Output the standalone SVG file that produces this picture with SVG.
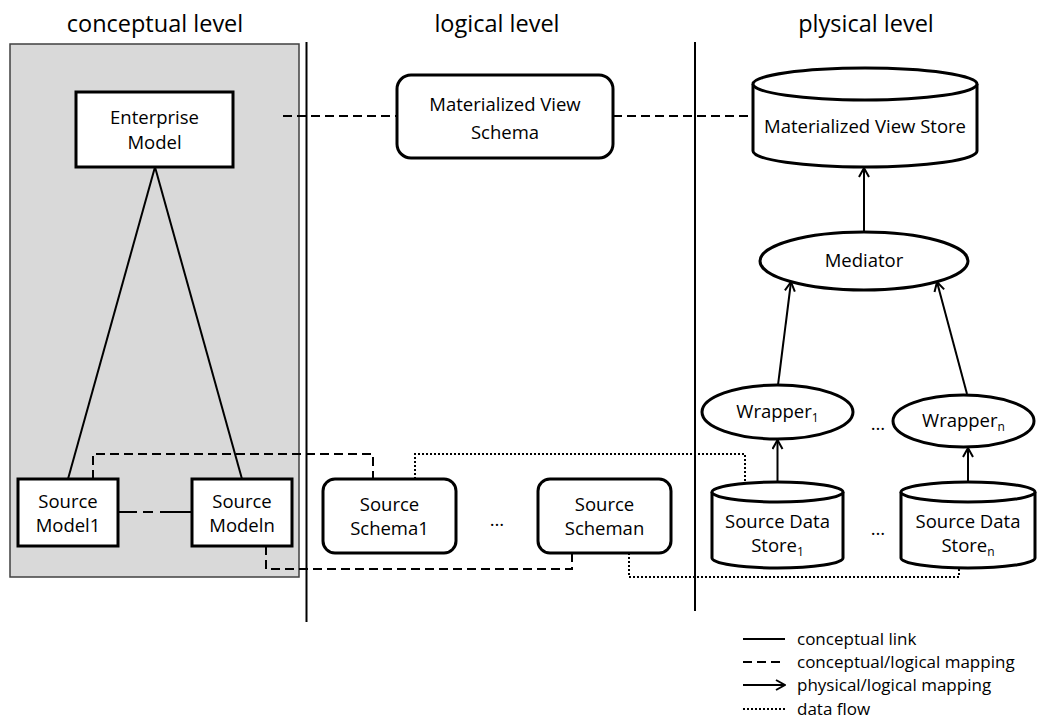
<svg xmlns="http://www.w3.org/2000/svg" width="1038" height="722" viewBox="0 0 1038 722">
  <style>
    text { font-family: "Open Sans", "Liberation Sans", sans-serif; fill: #000; text-anchor: middle; }
    tspan { fill: #000; }
    .title { font-size: 23.5px; }
    .lbl { font-size: 18.5px; }
    .leg { font-size: 17px; text-anchor: start; }
    .sub { font-size: 12px; }
    .box { fill: #fff; stroke: #000; stroke-width: 3; }
    .sep { stroke: #000; stroke-width: 2; fill: none; }
    .link { stroke: #000; stroke-width: 2; fill: none; }
    .map { stroke: #000; stroke-width: 2; fill: none; stroke-dasharray: 9 5; }
    .flow { stroke: #000; stroke-width: 2; fill: none; stroke-dasharray: 2 2; }
    .phys { stroke: #000; stroke-width: 2; fill: none; marker-end: url(#open); }
  </style>
  <defs>
    <marker id="open" viewBox="0 0 12 12" refX="11" refY="6" markerWidth="12" markerHeight="12" markerUnits="userSpaceOnUse" orient="auto">
      <path d="M2,1 L11,6 L2,11" fill="none" stroke="#000" stroke-width="2"/>
    </marker>
  </defs>

  <rect width="1038" height="722" fill="#fff"/>

  <!-- level headings -->
  <text class="title" x="155" y="32">conceptual level</text>
  <text class="title" x="497" y="32">logical level</text>
  <text class="title" x="866" y="32">plysical level</text>

  <!-- conceptual area -->
  <rect x="10" y="44" width="289" height="533" fill="#d9d9d9" stroke="#404040" stroke-width="1.5"/>

  <!-- level separators -->
  <line class="sep" x1="306.5" y1="42" x2="306.5" y2="622"/>
  <line class="sep" x1="695" y1="42" x2="695" y2="611"/>

  <g id="connectors">
    <!-- conceptual links -->
    <line class="link" x1="155" y1="167" x2="68" y2="479"/>
    <line class="link" x1="155" y1="167" x2="242" y2="479"/>
    <!-- conceptual/logical mappings -->
    <line class="map" x1="283" y1="116" x2="397" y2="116"/>
    <line class="map" x1="613" y1="116" x2="753" y2="116"/>
    <line class="link" x1="118" y1="512" x2="192" y2="512" stroke-dasharray="19 6 10 7 40"/>
    <polyline class="map" points="93,479 93,454 373,454 373,479"/>
    <polyline class="map" points="266,546 266,569 572,569 572,553"/>
    <!-- data flows -->
    <polyline class="flow" points="415,479 415,454 745,454 745,483"/>
    <polyline class="flow" points="629,553 629,577 959,577 959,568"/>
    <!-- physical/logical mappings -->
    <line class="phys" x1="777.5" y1="482" x2="777.5" y2="440"/>
    <line class="phys" x1="968" y1="482" x2="968" y2="448"/>
    <line class="phys" x1="778" y1="385" x2="791" y2="282"/>
    <line class="phys" x1="967" y1="394" x2="937" y2="282"/>
    <line class="phys" x1="864" y1="232" x2="864" y2="168"/>
  </g>

  <g id="enterprise-model">
    <rect class="box" x="76" y="92" width="157" height="75"/>
    <text class="lbl" x="154.5" y="124">Enterprise</text>
    <text class="lbl" x="154.5" y="149">Model</text>
  </g>

  <g id="source-model1">
    <rect class="box" x="18" y="479" width="100" height="67"/>
    <text class="lbl" x="68" y="508">Source</text>
    <text class="lbl" x="68" y="532">Model1</text>
  </g>

  <g id="source-modeln">
    <rect class="box" x="192" y="479" width="100" height="67"/>
    <text class="lbl" x="242" y="508">Source</text>
    <text class="lbl" x="242" y="532">Modeln</text>
  </g>

  <g id="mv-schema">
    <rect class="box" x="397" y="75" width="216" height="83" rx="14"/>
    <text class="lbl" x="505" y="111">Materialized View</text>
    <text class="lbl" x="505" y="139">Schema</text>
  </g>

  <g id="source-schema1">
    <rect class="box" x="323" y="479" width="133" height="74" rx="12"/>
    <text class="lbl" x="389.5" y="511">Source</text>
    <text class="lbl" x="389.5" y="535">Schema1</text>
  </g>

  <text class="lbl" x="497" y="526">…</text>

  <g id="source-scheman">
    <rect class="box" x="538" y="479" width="133" height="74" rx="12"/>
    <text class="lbl" x="604.5" y="511">Source</text>
    <text class="lbl" x="604.5" y="535">Scheman</text>
  </g>

  <g id="mv-store">
    <path class="box" d="M753,84 L753,151 A112,16 0 0 0 977,151 L977,84 A112,16 0 0 0 753,84 Z"/>
    <path class="box" d="M753,84 A112,16 0 0 0 977,84" fill="none"/>
    <text class="lbl" x="865" y="133">Materialized View Store</text>
  </g>

  <g id="mediator">
    <ellipse class="box" cx="864" cy="261" rx="104" ry="29"/>
    <text class="lbl" x="864" y="267">Mediator</text>
  </g>

  <g id="wrapper1">
    <ellipse class="box" cx="777.5" cy="412" rx="75.5" ry="27"/>
    <text class="lbl" x="777.5" y="418">Wrapper<tspan class="sub" dy="4">1</tspan></text>
  </g>

  <text class="lbl" x="878" y="430">…</text>

  <g id="wrappern">
    <ellipse class="box" cx="963.5" cy="421" rx="70.5" ry="26"/>
    <text class="lbl" x="963.5" y="427">Wrapper<tspan class="sub" dy="4">n</tspan></text>
  </g>

  <g id="source-store1">
    <path class="box" d="M712,492 L712,558 A65.5,10 0 0 0 843,558 L843,492 A65.5,10 0 0 0 712,492 Z"/>
    <path class="box" d="M712,492 A65.5,10 0 0 0 843,492" fill="none"/>
    <text class="lbl" x="777.5" y="528">Source Data</text>
    <text class="lbl" x="777.5" y="552">Store<tspan class="sub" dy="4">1</tspan></text>
  </g>

  <text class="lbl" x="878" y="535">…</text>

  <g id="source-storen">
    <path class="box" d="M901,492 L901,558 A67,10 0 0 0 1035,558 L1035,492 A67,10 0 0 0 901,492 Z"/>
    <path class="box" d="M901,492 A67,10 0 0 0 1035,492" fill="none"/>
    <text class="lbl" x="968" y="528">Source Data</text>
    <text class="lbl" x="968" y="552">Store<tspan class="sub" dy="4">n</tspan></text>
  </g>

  <g id="legend">
    <line class="link" x1="743" y1="639" x2="785" y2="639"/>
    <text class="leg" x="797" y="645">conceptual link</text>
    <line class="map" x1="743" y1="662" x2="785" y2="662"/>
    <text class="leg" x="797" y="668">conceptual/logical mapping</text>
    <line class="phys" x1="743" y1="685" x2="785" y2="685"/>
    <text class="leg" x="797" y="691">physical/logical mapping</text>
    <line class="flow" x1="743" y1="709" x2="785" y2="709"/>
    <text class="leg" x="797" y="715">data flow</text>
  </g>
</svg>
